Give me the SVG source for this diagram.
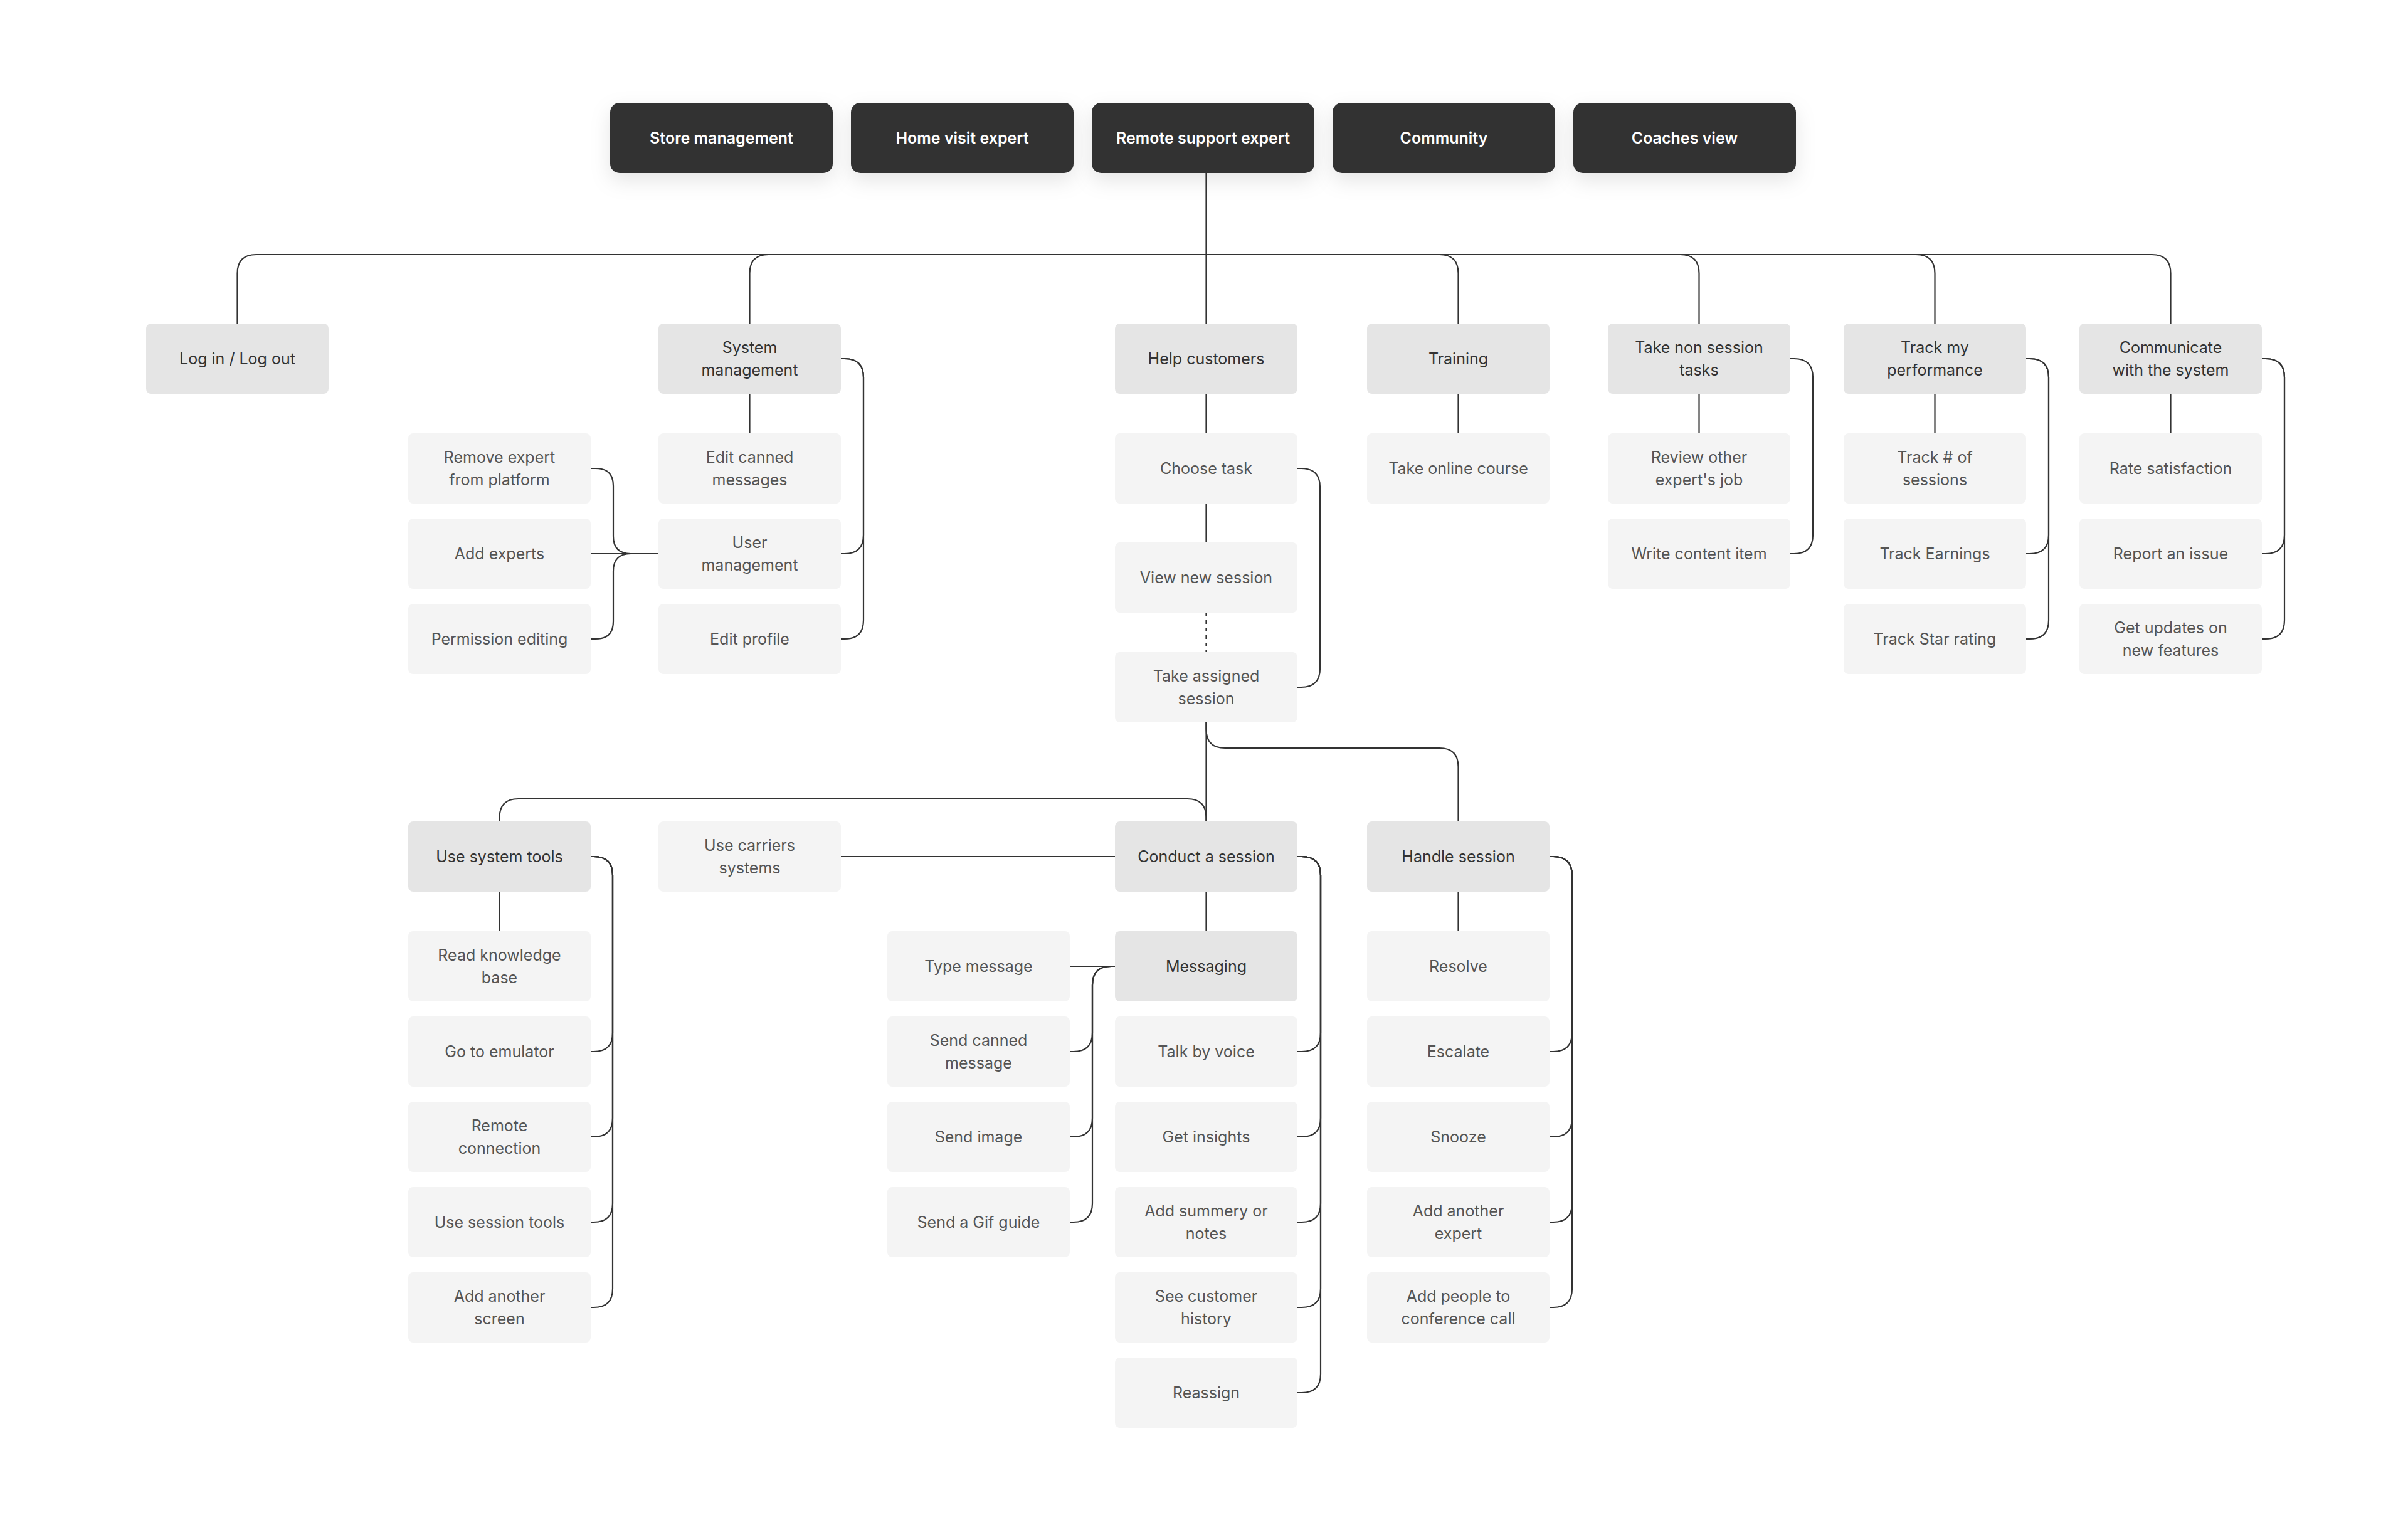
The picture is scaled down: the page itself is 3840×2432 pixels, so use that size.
<svg xmlns="http://www.w3.org/2000/svg" width="3840" height="2432" viewBox="0 0 3840 2432">
<defs>
<filter id="sh" x="-20%" y="-40%" width="140%" height="200%">
<feDropShadow dx="0" dy="12" stdDeviation="16" flood-color="#000" flood-opacity="0.10"/>
</filter>
</defs>
<style>
.top{fill:#333333;filter:url(#sh)}
.hd{fill:#e5e5e5}
.ch{fill:#f4f4f4}
text{font-family:Inter,"Noto Sans",sans-serif;font-size:25px;text-anchor:middle;dominant-baseline:central}
.tt{fill:#ffffff;font-weight:600}
.th{fill:#333333}
.tc{fill:#555555}
.ln{fill:none;stroke:#333333;stroke-width:2.2}
.dash{stroke-dasharray:6 6}
</style>
<rect width="3840" height="2432" fill="#ffffff"/>

<g id="connectors">
<!-- top trunk -->
<path class="ln" d="M1923.5 276 V516"/>
<path class="ln" d="M1923.5 406 H408.5 Q378.5 406 378.5 436 V516"/>
<path class="ln" d="M1923.5 406 H1225.5 Q1195.5 406 1195.5 436 V516"/>
<path class="ln" d="M1923.5 406 H2295.5 Q2325.5 406 2325.5 436 V516"/>
<path class="ln" d="M1923.5 406 H2679.5 Q2709.5 406 2709.5 436 V516"/>
<path class="ln" d="M1923.5 406 H3055.5 Q3085.5 406 3085.5 436 V516"/>
<path class="ln" d="M1923.5 406 H3431.5 Q3461.5 406 3461.5 436 V516"/>
<!-- level 2 to first children -->
<path class="ln" d="M1195.5 628 V691"/>
<path class="ln" d="M1923.5 628 V691"/>
<path class="ln" d="M2325.5 628 V691"/>
<path class="ln" d="M2709.5 628 V691"/>
<path class="ln" d="M3085.5 628 V691"/>
<path class="ln" d="M3461.5 628 V691"/>
<path class="ln" d="M1923.5 803 V865"/>
<path class="ln dash" d="M1923.5 977 V1040"/>
<!-- right brackets upper -->
<path class="ln" d="M1341 572 H1347 Q1377 572 1377 602 V853 Q1377 883 1347 883 H1341"/>
<path class="ln" d="M1341 572 H1347 Q1377 572 1377 602 V989 Q1377 1019 1347 1019 H1341"/>
<path class="ln" d="M2069 747 H2075 Q2105 747 2105 777 V1066 Q2105 1096 2075 1096 H2069"/>
<path class="ln" d="M2855 572 H2861 Q2891 572 2891 602 V853 Q2891 883 2861 883 H2855"/>
<path class="ln" d="M3231 572 H3237 Q3267 572 3267 602 V853 Q3267 883 3237 883 H3231"/>
<path class="ln" d="M3231 572 H3237 Q3267 572 3267 602 V989 Q3267 1019 3237 1019 H3231"/>
<path class="ln" d="M3607 572 H3613 Q3643 572 3643 602 V853 Q3643 883 3613 883 H3607"/>
<path class="ln" d="M3607 572 H3613 Q3643 572 3643 602 V989 Q3643 1019 3613 1019 H3607"/>
<!-- user management left bracket -->
<path class="ln" d="M1050 883 H942"/>
<path class="ln" d="M1050 883 H1006 Q978 883 978 855 V775 Q978 747 950 747 H942"/>
<path class="ln" d="M1050 883 H1006 Q978 883 978 911 V991 Q978 1019 950 1019 H942"/>
<!-- take assigned branching -->
<path class="ln" d="M1923.5 1152 V1310"/>
<path class="ln" d="M1923.5 1152 V1163 Q1923.5 1193 1953.5 1193 H2295.5 Q2325.5 1193 2325.5 1223 V1310"/>
<path class="ln" d="M1923.5 1310 V1304 Q1923.5 1274 1893.5 1274 H826.5 Q796.5 1274 796.5 1304 V1310"/>
<path class="ln" d="M1341 1366 H1778"/>
<!-- level 3 to children -->
<path class="ln" d="M796.5 1422 V1485"/>
<path class="ln" d="M1923.5 1422 V1485"/>
<path class="ln" d="M2325.5 1422 V1485"/>
<!-- use system tools bracket -->
<path class="ln" d="M942 1366 H947 Q977 1366 977 1396 V1647 Q977 1677 947 1677 H942"/>
<path class="ln" d="M942 1366 H947 Q977 1366 977 1396 V1783 Q977 1813 947 1813 H942"/>
<path class="ln" d="M942 1366 H947 Q977 1366 977 1396 V1919 Q977 1949 947 1949 H942"/>
<path class="ln" d="M942 1366 H947 Q977 1366 977 1396 V2055 Q977 2085 947 2085 H942"/>
<!-- conduct bracket -->
<path class="ln" d="M2069 1366 H2076 Q2106 1366 2106 1396 V1647 Q2106 1677 2076 1677 H2069"/>
<path class="ln" d="M2069 1366 H2076 Q2106 1366 2106 1396 V1783 Q2106 1813 2076 1813 H2069"/>
<path class="ln" d="M2069 1366 H2076 Q2106 1366 2106 1396 V1919 Q2106 1949 2076 1949 H2069"/>
<path class="ln" d="M2069 1366 H2076 Q2106 1366 2106 1396 V2055 Q2106 2085 2076 2085 H2069"/>
<path class="ln" d="M2069 1366 H2076 Q2106 1366 2106 1396 V2191 Q2106 2221 2076 2221 H2069"/>
<!-- handle bracket -->
<path class="ln" d="M2471 1366 H2477 Q2507 1366 2507 1396 V1647 Q2507 1677 2477 1677 H2471"/>
<path class="ln" d="M2471 1366 H2477 Q2507 1366 2507 1396 V1783 Q2507 1813 2477 1813 H2471"/>
<path class="ln" d="M2471 1366 H2477 Q2507 1366 2507 1396 V1919 Q2507 1949 2477 1949 H2471"/>
<path class="ln" d="M2471 1366 H2477 Q2507 1366 2507 1396 V2055 Q2507 2085 2477 2085 H2471"/>
<!-- messaging left bracket -->
<path class="ln" d="M1778 1541 H1706"/>
<path class="ln" d="M1778 1541 H1772 Q1742 1541 1742 1571 V1647 Q1742 1677 1712 1677 H1706"/>
<path class="ln" d="M1778 1541 H1772 Q1742 1541 1742 1571 V1783 Q1742 1813 1712 1813 H1706"/>
<path class="ln" d="M1778 1541 H1772 Q1742 1541 1742 1571 V1919 Q1742 1949 1712 1949 H1706"/>
</g>

<!-- top roles -->
<g id="store-management"><rect class="top" x="973" y="164" width="355" height="112" rx="15"/><text class="tt" x="1150.5" y="220">Store management</text></g>
<g id="home-visit-expert"><rect class="top" x="1357" y="164" width="355" height="112" rx="15"/><text class="tt" x="1534.5" y="220">Home visit expert</text></g>
<g id="remote-support-expert"><rect class="top" x="1741" y="164" width="355" height="112" rx="15"/><text class="tt" x="1918.5" y="220">Remote support expert</text></g>
<g id="community"><rect class="top" x="2125" y="164" width="355" height="112" rx="15"/><text class="tt" x="2302.5" y="220">Community</text></g>
<g id="coaches-view"><rect class="top" x="2509" y="164" width="355" height="112" rx="15"/><text class="tt" x="2686.5" y="220">Coaches view</text></g>

<!-- level 2 -->
<g id="log-in-out"><rect class="hd" x="233" y="516" width="291" height="112" rx="8"/><text class="th" x="378.5" y="572">Log in / Log out</text></g>
<g id="system-management"><rect class="hd" x="1050" y="516" width="291" height="112" rx="8"/><text class="th" x="1195.5" y="554">System</text><text class="th" x="1195.5" y="590">management</text></g>
<g id="help-customers"><rect class="hd" x="1778" y="516" width="291" height="112" rx="8"/><text class="th" x="1923.5" y="572">Help customers</text></g>
<g id="training"><rect class="hd" x="2180" y="516" width="291" height="112" rx="8"/><text class="th" x="2325.5" y="572">Training</text></g>
<g id="take-non-session-tasks"><rect class="hd" x="2564" y="516" width="291" height="112" rx="8"/><text class="th" x="2709.5" y="554">Take non session</text><text class="th" x="2709.5" y="590">tasks</text></g>
<g id="track-my-performance"><rect class="hd" x="2940" y="516" width="291" height="112" rx="8"/><text class="th" x="3085.5" y="554">Track my</text><text class="th" x="3085.5" y="590">performance</text></g>
<g id="communicate"><rect class="hd" x="3316" y="516" width="291" height="112" rx="8"/><text class="th" x="3461.5" y="554">Communicate</text><text class="th" x="3461.5" y="590">with the system</text></g>

<!-- row 691 -->
<g id="remove-expert"><rect class="ch" x="651" y="691" width="291" height="112" rx="8"/><text class="tc" x="796.5" y="729">Remove expert</text><text class="tc" x="796.5" y="765">from platform</text></g>
<g id="edit-canned-messages"><rect class="ch" x="1050" y="691" width="291" height="112" rx="8"/><text class="tc" x="1195.5" y="729">Edit canned</text><text class="tc" x="1195.5" y="765">messages</text></g>
<g id="choose-task"><rect class="ch" x="1778" y="691" width="291" height="112" rx="8"/><text class="tc" x="1923.5" y="747">Choose task</text></g>
<g id="take-online-course"><rect class="ch" x="2180" y="691" width="291" height="112" rx="8"/><text class="tc" x="2325.5" y="747">Take online course</text></g>
<g id="review-other"><rect class="ch" x="2564" y="691" width="291" height="112" rx="8"/><text class="tc" x="2709.5" y="729">Review other</text><text class="tc" x="2709.5" y="765">expert's job</text></g>
<g id="track-sessions"><rect class="ch" x="2940" y="691" width="291" height="112" rx="8"/><text class="tc" x="3085.5" y="729">Track # of</text><text class="tc" x="3085.5" y="765">sessions</text></g>
<g id="rate-satisfaction"><rect class="ch" x="3316" y="691" width="291" height="112" rx="8"/><text class="tc" x="3461.5" y="747">Rate satisfaction</text></g>

<!-- row 827 -->
<g id="add-experts"><rect class="ch" x="651" y="827" width="291" height="112" rx="8"/><text class="tc" x="796.5" y="883">Add experts</text></g>
<g id="user-management"><rect class="ch" x="1050" y="827" width="291" height="112" rx="8"/><text class="tc" x="1195.5" y="865">User</text><text class="tc" x="1195.5" y="901">management</text></g>
<g id="write-content-item"><rect class="ch" x="2564" y="827" width="291" height="112" rx="8"/><text class="tc" x="2709.5" y="883">Write content item</text></g>
<g id="track-earnings"><rect class="ch" x="2940" y="827" width="291" height="112" rx="8"/><text class="tc" x="3085.5" y="883">Track Earnings</text></g>
<g id="report-issue"><rect class="ch" x="3316" y="827" width="291" height="112" rx="8"/><text class="tc" x="3461.5" y="883">Report an issue</text></g>

<!-- help column -->
<g id="view-new-session"><rect class="ch" x="1778" y="865" width="291" height="112" rx="8"/><text class="tc" x="1923.5" y="921">View new session</text></g>
<g id="take-assigned-session"><rect class="ch" x="1778" y="1040" width="291" height="112" rx="8"/><text class="tc" x="1923.5" y="1078">Take assigned</text><text class="tc" x="1923.5" y="1114">session</text></g>

<!-- row 963 -->
<g id="permission-editing"><rect class="ch" x="651" y="963" width="291" height="112" rx="8"/><text class="tc" x="796.5" y="1019">Permission editing</text></g>
<g id="edit-profile"><rect class="ch" x="1050" y="963" width="291" height="112" rx="8"/><text class="tc" x="1195.5" y="1019">Edit profile</text></g>
<g id="track-star-rating"><rect class="ch" x="2940" y="963" width="291" height="112" rx="8"/><text class="tc" x="3085.5" y="1019">Track Star rating</text></g>
<g id="get-updates"><rect class="ch" x="3316" y="963" width="291" height="112" rx="8"/><text class="tc" x="3461.5" y="1001">Get updates on</text><text class="tc" x="3461.5" y="1037">new features</text></g>

<!-- level 3 -->
<g id="use-system-tools"><rect class="hd" x="651" y="1310" width="291" height="112" rx="8"/><text class="th" x="796.5" y="1366">Use system tools</text></g>
<g id="use-carriers-systems"><rect class="ch" x="1050" y="1310" width="291" height="112" rx="8"/><text class="tc" x="1195.5" y="1348">Use carriers</text><text class="tc" x="1195.5" y="1384">systems</text></g>
<g id="conduct-session"><rect class="hd" x="1778" y="1310" width="291" height="112" rx="8"/><text class="th" x="1923.5" y="1366">Conduct a session</text></g>
<g id="handle-session"><rect class="hd" x="2180" y="1310" width="291" height="112" rx="8"/><text class="th" x="2325.5" y="1366">Handle session</text></g>

<!-- system tools children -->
<g id="read-knowledge-base"><rect class="ch" x="651" y="1485" width="291" height="112" rx="8"/><text class="tc" x="796.5" y="1523">Read knowledge</text><text class="tc" x="796.5" y="1559">base</text></g>
<g id="go-to-emulator"><rect class="ch" x="651" y="1621" width="291" height="112" rx="8"/><text class="tc" x="796.5" y="1677">Go to emulator</text></g>
<g id="remote-connection"><rect class="ch" x="651" y="1757" width="291" height="112" rx="8"/><text class="tc" x="796.5" y="1795">Remote</text><text class="tc" x="796.5" y="1831">connection</text></g>
<g id="use-session-tools"><rect class="ch" x="651" y="1893" width="291" height="112" rx="8"/><text class="tc" x="796.5" y="1949">Use session tools</text></g>
<g id="add-another-screen"><rect class="ch" x="651" y="2029" width="291" height="112" rx="8"/><text class="tc" x="796.5" y="2067">Add another</text><text class="tc" x="796.5" y="2103">screen</text></g>

<!-- messaging children -->
<g id="type-message"><rect class="ch" x="1415" y="1485" width="291" height="112" rx="8"/><text class="tc" x="1560.5" y="1541">Type message</text></g>
<g id="send-canned-message"><rect class="ch" x="1415" y="1621" width="291" height="112" rx="8"/><text class="tc" x="1560.5" y="1659">Send canned</text><text class="tc" x="1560.5" y="1695">message</text></g>
<g id="send-image"><rect class="ch" x="1415" y="1757" width="291" height="112" rx="8"/><text class="tc" x="1560.5" y="1813">Send image</text></g>
<g id="send-gif-guide"><rect class="ch" x="1415" y="1893" width="291" height="112" rx="8"/><text class="tc" x="1560.5" y="1949">Send a Gif guide</text></g>

<!-- conduct children -->
<g id="messaging"><rect class="hd" x="1778" y="1485" width="291" height="112" rx="8"/><text class="th" x="1923.5" y="1541">Messaging</text></g>
<g id="talk-by-voice"><rect class="ch" x="1778" y="1621" width="291" height="112" rx="8"/><text class="tc" x="1923.5" y="1677">Talk by voice</text></g>
<g id="get-insights"><rect class="ch" x="1778" y="1757" width="291" height="112" rx="8"/><text class="tc" x="1923.5" y="1813">Get insights</text></g>
<g id="add-summery"><rect class="ch" x="1778" y="1893" width="291" height="112" rx="8"/><text class="tc" x="1923.5" y="1931">Add summery or</text><text class="tc" x="1923.5" y="1967">notes</text></g>
<g id="see-customer-history"><rect class="ch" x="1778" y="2029" width="291" height="112" rx="8"/><text class="tc" x="1923.5" y="2067">See customer</text><text class="tc" x="1923.5" y="2103">history</text></g>
<g id="reassign"><rect class="ch" x="1778" y="2165" width="291" height="112" rx="8"/><text class="tc" x="1923.5" y="2221">Reassign</text></g>

<!-- handle children -->
<g id="resolve"><rect class="ch" x="2180" y="1485" width="291" height="112" rx="8"/><text class="tc" x="2325.5" y="1541">Resolve</text></g>
<g id="escalate"><rect class="ch" x="2180" y="1621" width="291" height="112" rx="8"/><text class="tc" x="2325.5" y="1677">Escalate</text></g>
<g id="snooze"><rect class="ch" x="2180" y="1757" width="291" height="112" rx="8"/><text class="tc" x="2325.5" y="1813">Snooze</text></g>
<g id="add-another-expert"><rect class="ch" x="2180" y="1893" width="291" height="112" rx="8"/><text class="tc" x="2325.5" y="1931">Add another</text><text class="tc" x="2325.5" y="1967">expert</text></g>
<g id="add-people-conference"><rect class="ch" x="2180" y="2029" width="291" height="112" rx="8"/><text class="tc" x="2325.5" y="2067">Add people to</text><text class="tc" x="2325.5" y="2103">conference call</text></g>
</svg>
